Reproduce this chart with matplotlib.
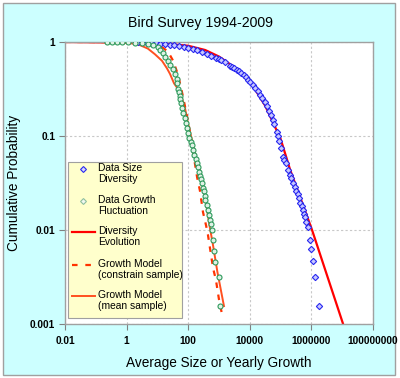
import matplotlib
matplotlib.use("Agg")
import matplotlib.pyplot as plt
from matplotlib.patches import Rectangle
from matplotlib.ticker import FixedLocator, FixedFormatter, NullLocator

plt.rcParams['font.family'] = ['Liberation Sans', 'DejaVu Sans']

# ---- data ----
size_x = [2.3, 3.2, 4.5, 6.3, 8.9, 12.6, 17.8, 25, 35, 50, 71, 100, 141, 200, 282, 398, 562, 794,
          1000, 1120, 1580, 2240, 2630, 3160, 3800, 4470, 5250, 6310, 7590, 8910, 10500, 12600,
          15100, 17800, 21400, 25100, 30200, 35500, 41700, 50100, 56200, 63100, 75900, 83200,
          89100, 105000, 120000, 132000, 145000, 174000, 200000, 224000, 257000, 295000, 324000,
          355000, 389000, 427000, 479000, 525000, 575000, 617000, 692000, 776000, 891000, 977000,
          1120000, 1320000, 1780000]
size_y = [0.993, 0.989, 0.982, 0.977, 0.971, 0.959, 0.951, 0.938, 0.923, 0.906, 0.887, 0.867, 0.847,
          0.813, 0.776, 0.750, 0.716, 0.684, 0.661, 0.646, 0.610, 0.562, 0.543, 0.525, 0.507, 0.490,
          0.468, 0.447, 0.422, 0.398, 0.372, 0.347, 0.324, 0.302, 0.275, 0.251, 0.229, 0.209, 0.186,
          0.166, 0.148, 0.135, 0.110, 0.100, 0.0891, 0.0741, 0.0603, 0.055, 0.0513, 0.0437, 0.0389,
          0.0355, 0.0316, 0.0288, 0.0263, 0.0240, 0.0219, 0.0195, 0.0178, 0.0162, 0.0148, 0.0138,
          0.0123, 0.0107, 0.00776, 0.00631, 0.00468, 0.00316, 0.00155]

growth_x = [0.23, 0.34, 0.49, 0.71, 1.12, 1.86, 3.16, 5.0, 7.2, 10.5, 12.6, 15.1, 18.2, 21.9, 26.3,
            31.6, 37.2, 42.7, 44.7, 46.8, 49, 52.5, 55.6, 58.9, 63.1, 67.6, 75.9, 85.1, 91.2, 97.7,
            110, 120, 132, 145, 158, 174, 191, 209, 229, 245, 263, 282, 302, 316, 339, 355, 398, 437,
            479, 513, 550, 589, 646, 708, 741, 1000, 1070]
growth_y = [0.995, 0.995, 0.995, 0.995, 0.995, 0.982, 0.973, 0.959, 0.933, 0.891, 0.832, 0.759, 0.692,
            0.631, 0.569, 0.513, 0.457, 0.407, 0.363, 0.316, 0.292, 0.269, 0.245, 0.224, 0.2, 0.174,
            0.155, 0.138, 0.123, 0.107, 0.0955, 0.0871, 0.0794, 0.0708, 0.0631, 0.0575, 0.0513,
            0.0468, 0.0417, 0.0380, 0.0347, 0.0316, 0.0282, 0.0257, 0.0229, 0.0209, 0.0186, 0.0162,
            0.0145, 0.0129, 0.0115, 0.0100, 0.00776, 0.00603, 0.00457, 0.00316, 0.00155]

evol_x = [0.01, 10, 100, 355, 1000, 3160, 10000, 31600, 100000, 204000, 1050000, 10700000]
evol_y = [1.0, 0.977, 0.912, 0.822, 0.70, 0.54, 0.385, 0.21, 0.0933, 0.0437, 0.0100, 0.001]

constrain_x = [0.01, 1, 10, 21.9, 32.4, 46.8, 67.6, 100, 141, 195, 240, 302, 380, 437, 646, 794, 1000, 1260]
constrain_y = [1.0, 0.998, 0.955, 0.794, 0.631, 0.447, 0.263, 0.141, 0.0708, 0.0363, 0.0263, 0.0155,
               0.0112, 0.00891, 0.00389, 0.00295, 0.00182, 0.00126]

mean_x = [0.01, 0.1, 1.0, 2.34, 4.9, 8.3, 14.1, 20.4, 25.7, 34.7, 46.8, 63.1, 79.4, 97.7, 123, 166,
          240, 355, 479, 631, 891, 1450]
mean_y = [1.0, 0.998, 0.982, 0.946, 0.851, 0.741, 0.631, 0.525, 0.457, 0.363, 0.316, 0.251, 0.195,
          0.138, 0.1, 0.0661, 0.0437, 0.0224, 0.0117, 0.00708, 0.00355, 0.00155]

x_ticks = [0.01, 1, 100, 10000, 1000000, 100000000]
x_labels = ['0.01', '1', '100', '10000', '1000000', '100000000']
y_ticks = [0.001, 0.01, 0.1, 1]
y_labels = ['0.001', '0.01', '0.1', '1']

legend_labels = ['Data Size\nDiversity', 'Data Growth\nFluctuation', 'Diversity\nEvolution',
                 'Growth Model\n(constrain sample)', 'Growth Model\n(mean sample)']

# ---- styles ----
BLUE = '#2828F0'
GREEN = '#2E9A5C'
RED = '#FF0000'
ORANGE = '#FF5020'
ORANGE_D = '#FF3300'

W, H = 400, 378
fig = plt.figure(figsize=(W / 100, H / 100), dpi=100)
fig.patch.set_facecolor('white')
fig.patches.append(Rectangle((3 / W, 3 / H), 392 / W, 372 / H, transform=fig.transFigure,
                             facecolor='#CCFFFF', edgecolor='#A0A0A0', linewidth=1.0, zorder=-5))

ax = fig.add_axes([65 / W, 1 - 324 / H, 308 / W, 282 / H])
ax.set_zorder(2)
ax.set_facecolor('white')
ax.set_xscale('log')
ax.set_yscale('log')
ax.set_xlim(0.01, 1e8)
ax.set_ylim(0.001, 1)

ax.plot(evol_x, evol_y, color=RED, lw=1.6, zorder=2)
ax.plot(mean_x, mean_y, color=ORANGE, lw=1.4, zorder=2)
ax.plot(constrain_x, constrain_y, color=ORANGE_D, lw=1.6, dashes=(2.5, 3), zorder=2)
ax.plot(size_x, size_y, ls='none', marker='D', ms=3.2, mfc='#C8C8FF', mec=BLUE, mew=0.8, zorder=3)
ax.plot(growth_x, growth_y, ls='none', marker='o', ms=3.6, mfc='#E0F2E6', mec=GREEN, mew=0.8, zorder=3)

ax.xaxis.set_major_locator(FixedLocator(x_ticks))
ax.xaxis.set_major_formatter(FixedFormatter(x_labels))
ax.yaxis.set_major_locator(FixedLocator(y_ticks))
ax.yaxis.set_major_formatter(FixedFormatter(y_labels))
ax.xaxis.set_minor_locator(NullLocator())
ax.yaxis.set_minor_locator(NullLocator())
ax.tick_params(axis='both', which='major', direction='out', length=4, width=0.8, color='#808080',
               labelsize=7.3, pad=3)
for lab in ax.get_xticklabels() + ax.get_yticklabels():
    lab.set_fontweight('bold')
ax.tick_params(axis='x', pad=5)
ax.grid(True, which='major', color='#C8C8C8', linestyle=(0, (2, 2)), linewidth=0.8)
ax.set_axisbelow(True)
for s in ax.spines.values():
    s.set_color('#A0A0A0')
    s.set_linewidth(1.0)

# legend drawn in axes coordinates
tA = ax.transAxes
ax.add_patch(Rectangle((0.0097, 0.021), 0.370, 0.553, transform=tA, facecolor='#FFFFCC',
                       edgecolor='#A0A0A0', linewidth=0.8, zorder=5))
first_line_py = [169, 201, 232, 265, 296]
for i, (lab, py) in enumerate(zip(legend_labels, first_line_py)):
    ay = (324 - py) / 282
    if i == 0:
        ax.plot([0.058], [ay], transform=tA, ls='none', marker='D', ms=3, mfc='#D8D8FF',
                mec=BLUE, mew=0.8, zorder=6, clip_on=False)
    elif i == 1:
        ax.plot([0.058], [ay], transform=tA, ls='none', marker='D', ms=3, mfc='#F0F8F0',
                mec='#8FBF9F', mew=0.8, zorder=6, clip_on=False)
    elif i == 2:
        ax.plot([0.023, 0.097], [ay, ay], transform=tA, color=RED, lw=1.6, zorder=6)
    elif i == 3:
        ax.plot([0.023, 0.097], [ay, ay], transform=tA, color=ORANGE_D, lw=1.6,
                dashes=(2.5, 3.5), zorder=6)
    else:
        ax.plot([0.023, 0.097], [ay, ay], transform=tA, color=ORANGE, lw=1.4, zorder=6)
    ax.text(0.107, ay + 6 / 282, lab, transform=tA, fontsize=7.4, va='top', ha='left',
            linespacing=1.15, color='#000000', zorder=7)

fig.text(200 / W, 1 - 23 / H, 'Bird Survey 1994-2009', ha='center', va='center', fontsize=10.2)
fig.text(219 / W, 1 - 363 / H, 'Average Size or Yearly Growth', ha='center', va='center', fontsize=9.8)
fig.text(14 / W, 1 - 183 / H, 'Cumulative Probability', ha='center', va='center', fontsize=9.8,
         rotation=90)

fig.savefig('out.png', dpi=100, facecolor=fig.get_facecolor())
